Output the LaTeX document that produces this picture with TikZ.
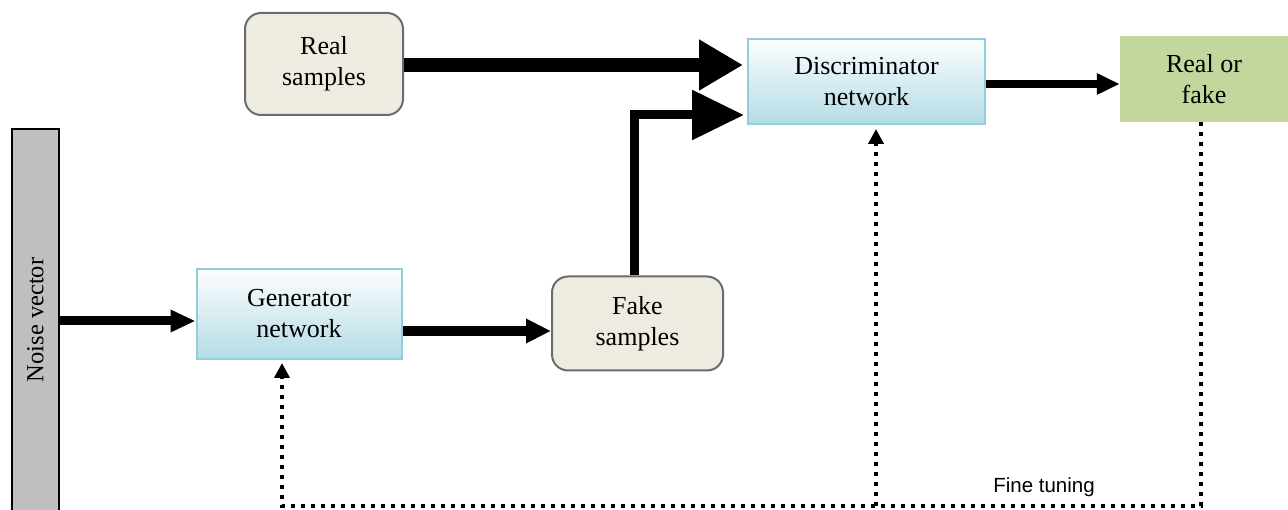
\documentclass[tikz,border=0pt]{standalone}
\usepackage{fontspec}
\setmainfont{Liberation Serif}
\newfontfamily\arialfont{Liberation Sans}
\usetikzlibrary{arrows.meta,calc}
\definecolor{boxblue}{HTML}{B4DCE6}
\definecolor{boxblueline}{HTML}{92CDDC}
\definecolor{samplefill}{HTML}{EEECE1}
\definecolor{sampleline}{HTML}{6B6B6B}
\definecolor{rofgreen}{HTML}{C3D69B}
\definecolor{noisegray}{HTML}{BFBFBF}
\tikzset{
  x=1pt, y=-1pt,
  lbl/.style={font=\fontsize{26}{31}\selectfont, align=center, inner sep=0pt},
  netbox/.style={lbl, rectangle, draw=boxblueline, line width=2pt, top color=white!96!boxblue, bottom color=boxblue},
  samplebox/.style={lbl, rectangle, rounded corners=16pt, draw=sampleline, line width=2pt, fill=samplefill},
  rofbox/.style={lbl, rectangle, fill=rofgreen},
  noisebox/.style={rectangle, draw=black, line width=2pt, fill=noisegray, inner sep=0pt},
  feedline/.style={line width=4pt, dash pattern=on 4pt off 6pt},
}
\begin{document}
\begin{tikzpicture}
\useasboundingbox (0,0) rectangle (1288,510);
% nodes
\node[noisebox, minimum width=47pt, minimum height=402pt] (noise) at (35.5,330) {};
\node[rotate=90, font=\fontsize{24.5}{28}\selectfont, inner sep=0pt] (noiselbl) at (35.5,320) {Noise vector};
\node[netbox, minimum width=205pt, minimum height=90pt] (gen) at (299,314) {Generator\\network};
\node[samplebox, minimum width=171pt, minimum height=94pt] (fake) at (637.5,323.5) {Fake\\samples};
\node[samplebox, minimum width=158pt, minimum height=102pt] (real) at (324,64) {Real\\samples};
\node[netbox, minimum width=237pt, minimum height=85pt] (disc) at (866.5,81.5) {Discriminator\\network};
\node[rofbox, minimum width=168pt, minimum height=86pt] (rof) at (1204,79) {Real or\\fake};
% solid connectors
\draw[line width=9pt, -{Triangle[length=25pt,width=21pt]}] (noise.east |- 0,321) -- (gen.west |- 0,321);
\draw[line width=10pt, -{Triangle[length=25pt,width=23pt]}] (gen.east |- 0,331) -- (fake.west |- 0,331);
\draw[line width=14pt, -{Triangle[length=44pt,width=48pt]}] (real.east |- 0,65) -- ($(disc.west |- 0,65)+(-4,0)$);
\draw[line width=9pt, -{Triangle[length=52pt,width=48pt]}] (634,0 |- fake.north) |- ($(disc.south west)+(-3,-10)$);
\draw[line width=8pt, -{Triangle[length=23pt,width=20pt]}] (disc.east |- 0,84) -- (rof.west |- 0,84);
% feedback
\coordinate (br) at (1201,506);
\coordinate (bm) at (876,506);
\coordinate (bl) at (282,506);
\draw[feedline, -{Triangle[length=15pt,width=15pt]}] (rof.south -| br) -- (br) -- (bl) -- ($(gen.south -| bl)+(0,3)$);
\draw[feedline, -{Triangle[length=15pt,width=15pt]}] (bm) -- ($(disc.south -| bm)+(0,4)$);
\node[font=\arialfont\fontsize{20.5}{24}\selectfont, inner sep=0pt] (ft) at (1044,487) {Fine tuning};
\end{tikzpicture}
\end{document}
